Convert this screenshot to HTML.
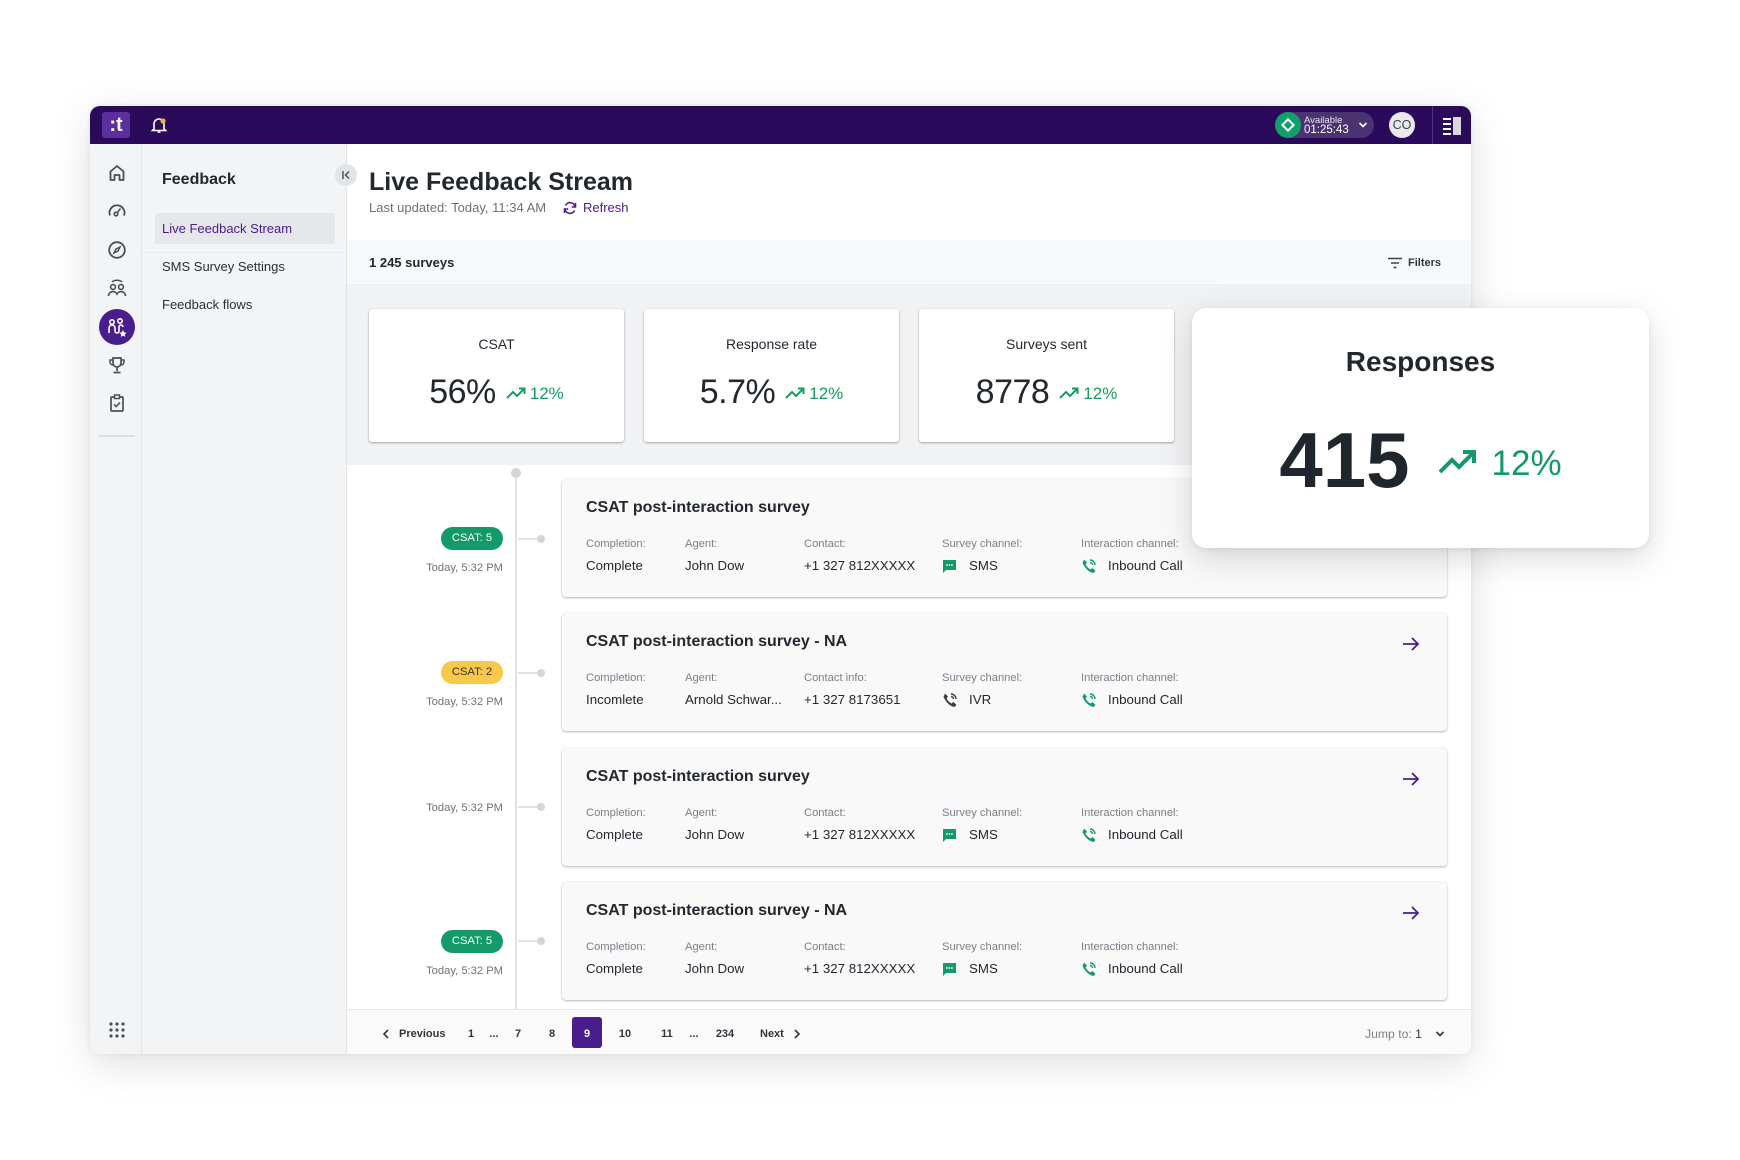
<!DOCTYPE html>
<html><head><meta charset="utf-8">
<style>
*{margin:0;padding:0;box-sizing:border-box}
html,body{width:1740px;height:1160px;background:#fff;overflow:hidden;font-family:"Liberation Sans",Arial,sans-serif;color:#23282f}
.a{position:absolute}
.t{position:absolute;white-space:nowrap}
.card{position:absolute;left:562px;width:885px;height:118px;background:#f9f9fa;border-radius:4px;box-shadow:0 1px 2px rgba(0,0,0,.28),0 0 1px rgba(0,0,0,.12)}
.ct{position:absolute;left:24px;top:19px;height:20px;line-height:20px;font-size:16px;font-weight:bold;color:#23282f;white-space:nowrap}
.lb{position:absolute;top:57px;height:16px;line-height:16px;font-size:11.2px;color:#7a7f87;white-space:nowrap}
.vl{position:absolute;top:78px;height:18px;line-height:18px;font-size:13.3px;color:#23282f;white-space:nowrap}
.pill{position:absolute;left:441px;width:62px;height:23px;border-radius:12px;font-size:11.2px;line-height:23px;text-align:center}
.today{position:absolute;right:1237px;height:16px;line-height:16px;font-size:11.2px;color:#6e737a;white-space:nowrap}
.conn{position:absolute;left:518px;width:23px;height:2px;background:#e3e3e3}
.cdot{position:absolute;left:537px;width:8px;height:8px;border-radius:50%;background:#d6d6d6}
.stat{position:absolute;top:309px;width:255px;height:133px;background:#fff;border-radius:3px;box-shadow:0 1px 2px rgba(0,0,0,.3),0 0 1px rgba(0,0,0,.15)}
.stt{position:absolute;left:0;right:0;top:25px;height:20px;line-height:20px;text-align:center;font-size:14px;color:#23282f}
.sv{position:absolute;left:0;right:0;top:63px;height:40px;display:flex;justify-content:center;align-items:center}
.sv .n{font-size:34px;color:#23282f;letter-spacing:-0.5px}
.sv svg{margin-left:10px;margin-top:2px}
.sv .p{font-size:17px;color:#169b63;margin-left:4px;margin-top:4px}
.pg{position:absolute;top:1026px;height:16px;line-height:16px;font-size:11px;font-weight:bold;color:#30353c;white-space:nowrap;text-align:center}
</style></head><body>

<!-- window -->
<div class="a" style="left:90px;top:106px;width:1381px;height:948px;background:#fff;border-radius:10px 10px 8px 8px;box-shadow:0 10px 40px rgba(0,0,0,.13),0 0 6px rgba(0,0,0,.07)"></div>

<!-- topbar -->
<div class="a" style="left:90px;top:106px;width:1381px;height:38px;background:#2b0a5c;border-radius:10px 10px 0 0"></div>
<div class="a" style="left:102px;top:112px;width:28px;height:26px;background:#5b2f9e;border-radius:3px;color:#fff;font-weight:bold;font-size:20px;line-height:26px;text-align:center">:t</div>
<svg class="a" style="left:150px;top:115px" width="18" height="20" viewBox="0 0 18 20"><path d="M4 14 V9 a5 5 0 0 1 10 0 V14 L15.5 15.5 H2.5 Z" fill="none" stroke="#fff" stroke-width="1.6"/><path d="M7.5 17 h3" stroke="#fff" stroke-width="1.6"/><circle cx="13" cy="6" r="2.6" fill="#e2b93b"/></svg>

<div class="a" style="left:1276px;top:112px;width:98px;height:26px;border-radius:13px;background:#4a3370"></div>
<div class="a" style="left:1275px;top:112px;width:26px;height:26px;border-radius:50%;background:#12a06a"></div>
<div class="a" style="left:1283px;top:120px;width:10px;height:10px;border:2px solid #fff;transform:rotate(45deg)"></div>
<div class="t" style="left:1304px;top:115px;font-size:9.5px;line-height:11px;color:#e8e4f0">Available</div>
<div class="t" style="left:1304px;top:124px;font-size:11.5px;line-height:13px;color:#fff">01:25:43</div>
<svg class="a" style="left:1358px;top:121px" width="10" height="8" viewBox="0 0 10 8"><path d="M1.5 2 L5 5.5 L8.5 2" fill="none" stroke="#fff" stroke-width="1.6"/></svg>
<div class="a" style="left:1389px;top:112px;width:26px;height:26px;border-radius:50%;background:#e9e9ee;color:#3d424a;font-size:12.5px;line-height:26px;text-align:center">CO</div>
<div class="a" style="left:1432px;top:106px;width:1px;height:38px;background:#4d3380"></div>
<div class="a" style="left:1443px;top:118px;width:8px;height:2px;background:#fff"></div>
<div class="a" style="left:1443px;top:123px;width:8px;height:2px;background:#fff"></div>
<div class="a" style="left:1443px;top:128px;width:8px;height:2px;background:#fff"></div>
<div class="a" style="left:1443px;top:133px;width:8px;height:2px;background:#fff"></div>
<div class="a" style="left:1453px;top:117px;width:8px;height:18px;background:#d8d8dc"></div>

<!-- rail -->
<div class="a" style="left:90px;top:144px;width:52px;height:910px;background:#f3f4f6;border-right:1px solid #e2e3e6;border-radius:0 0 0 8px"></div>
<svg class="a" style="left:107px;top:163px" width="20" height="20" viewBox="0 0 20 20"><path d="M3.5 17 V8.5 L10 3 L16.5 8.5 V17 H12.5 V12 H7.5 V17 Z" fill="none" stroke="#4a4f57" stroke-width="1.8" stroke-linejoin="round"/></svg>
<svg class="a" style="left:107px;top:200px" width="20" height="20" viewBox="0 0 20 20"><path d="M3 15.5 A7.5 7.5 0 1 1 17 15.5" fill="none" stroke="#4a4f57" stroke-width="1.8"/><circle cx="9" cy="14" r="1.8" fill="none" stroke="#4a4f57" stroke-width="1.6"/><path d="M10.2 12.8 L13.5 8.5" stroke="#4a4f57" stroke-width="1.6"/></svg>
<svg class="a" style="left:107px;top:240px" width="20" height="20" viewBox="0 0 20 20"><circle cx="10" cy="10" r="7.8" fill="none" stroke="#4a4f57" stroke-width="1.8"/><path d="M13 7 L11 11 L7 13 L9 9 Z" fill="none" stroke="#4a4f57" stroke-width="1.5"/></svg>
<svg class="a" style="left:106px;top:277px" width="22" height="22" viewBox="0 0 22 22"><path d="M6 5 A6 4 0 0 1 16 5" fill="none" stroke="#4a4f57" stroke-width="1.5"/><circle cx="7" cy="10" r="2.4" fill="none" stroke="#4a4f57" stroke-width="1.6"/><circle cx="15" cy="10" r="2.4" fill="none" stroke="#4a4f57" stroke-width="1.6"/><path d="M2.5 19 A4.5 4.5 0 0 1 11 17 A4.5 4.5 0 0 1 19.5 19" fill="none" stroke="#4a4f57" stroke-width="1.6"/></svg>
<div class="a" style="left:99px;top:309px;width:36px;height:36px;border-radius:50%;background:#4a1d8f"></div>
<svg class="a" style="left:106px;top:316px" width="22" height="22" viewBox="0 0 22 22"><circle cx="6" cy="6" r="2.2" fill="none" stroke="#fff" stroke-width="1.6"/><circle cx="14" cy="5" r="2.2" fill="none" stroke="#fff" stroke-width="1.6"/><path d="M3 17 V12 a3 3 0 0 1 6 0 V15 a2 2 0 0 0 4 0 V11 a2 2 0 0 1 4 0" fill="none" stroke="#fff" stroke-width="1.6"/><path d="M17 14 l1.2 2.4 2.5 .3 -1.9 1.7 .5 2.5 -2.3 -1.3 -2.3 1.3 .5 -2.5 -1.9 -1.7 2.5 -.3z" fill="#fff"/></svg>
<svg class="a" style="left:107px;top:355px" width="20" height="20" viewBox="0 0 20 20"><path d="M6 3 H14 V8 a4 4 0 0 1 -8 0 Z" fill="none" stroke="#4a4f57" stroke-width="1.7"/><path d="M6 5 H3 V7 a3 3 0 0 0 3 3 M14 5 H17 V7 a3 3 0 0 1 -3 3" fill="none" stroke="#4a4f57" stroke-width="1.5"/><path d="M10 12 V16 M6.5 17.5 H13.5" stroke="#4a4f57" stroke-width="1.7"/></svg>
<svg class="a" style="left:107px;top:393px" width="20" height="20" viewBox="0 0 20 20"><rect x="4" y="4" width="12" height="14" rx="1" fill="none" stroke="#4a4f57" stroke-width="1.7"/><rect x="7.5" y="2" width="5" height="3.5" fill="#f3f4f6" stroke="#4a4f57" stroke-width="1.5"/><path d="M7 11.5 L9.2 13.5 L13 9.5" fill="none" stroke="#4a4f57" stroke-width="1.6"/></svg>
<div class="a" style="left:99px;top:435px;width:36px;height:2px;background:#dcdde0"></div>
<svg class="a" style="left:109px;top:1022px" width="16" height="16" viewBox="0 0 16 16" fill="#4a4f57"><circle cx="2" cy="2" r="1.6"/><circle cx="8" cy="2" r="1.6"/><circle cx="14" cy="2" r="1.6"/><circle cx="2" cy="8" r="1.6"/><circle cx="8" cy="8" r="1.6"/><circle cx="14" cy="8" r="1.6"/><circle cx="2" cy="14" r="1.6"/><circle cx="8" cy="14" r="1.6"/><circle cx="14" cy="14" r="1.6"/></svg>

<!-- feedback panel -->
<div class="a" style="left:142px;top:144px;width:205px;height:910px;background:#f3f4f6;border-right:1px solid #e2e3e6"></div>
<div class="t" style="left:162px;top:170px;height:20px;line-height:20px;font-size:16px;font-weight:bold;color:#23282f">Feedback</div>
<div class="a" style="left:335px;top:164px;width:22px;height:22px;border-radius:50%;background:#e3e4e7"></div>
<svg class="a" style="left:340px;top:169px" width="12" height="12" viewBox="0 0 12 12"><path d="M3 2 V10" stroke="#4a4f57" stroke-width="1.4"/><path d="M9 2.5 L5.5 6 L9 9.5" fill="none" stroke="#4a4f57" stroke-width="1.4"/></svg>
<div class="a" style="left:142px;top:252px;width:204px;height:1px;background:#ebecee"></div>
<div class="a" style="left:155px;top:213px;width:180px;height:31px;background:#e6e7ea;border-radius:3px"></div>
<div class="t" style="left:162px;top:221px;height:16px;line-height:16px;font-size:13px;color:#4a1d8f">Live Feedback Stream</div>
<div class="t" style="left:162px;top:259px;height:16px;line-height:16px;font-size:13px;color:#2a2f36">SMS Survey Settings</div>
<div class="t" style="left:162px;top:297px;height:16px;line-height:16px;font-size:13px;color:#2a2f36">Feedback flows</div>

<!-- header -->
<div class="t" style="left:369px;top:167px;height:30px;line-height:30px;font-size:25px;font-weight:bold;color:#23282f">Live Feedback Stream</div>
<div class="t" style="left:369px;top:200px;height:16px;line-height:16px;font-size:13px;color:#6b7079">Last updated: Today, 11:34 AM</div>
<svg class="a" style="left:562px;top:200px" width="16" height="16" viewBox="0 0 16 16"><path d="M13 7 A5 5 0 0 0 3.5 5.5 M3 9 A5 5 0 0 0 12.5 10.5" fill="none" stroke="#4a1d8f" stroke-width="1.6"/><path d="M13.5 3 V7 H9.8 M2.5 13 V9 H6.2" fill="none" stroke="#4a1d8f" stroke-width="1.6"/></svg>
<div class="t" style="left:583px;top:200px;height:16px;line-height:16px;font-size:13px;color:#4a1d8f">Refresh</div>

<!-- band -->
<div class="a" style="left:347px;top:240px;width:1124px;height:45px;background:#f8f9fa;border-bottom:1px solid #eceef0"></div>
<div class="t" style="left:369px;top:255px;height:16px;line-height:16px;font-size:13px;font-weight:bold;color:#23282f">1 245 surveys</div>
<svg class="a" style="left:1387px;top:257px" width="16" height="12" viewBox="0 0 16 12"><path d="M1 1.5 H15 M4 6 H12 M6.5 10.5 H9.5" stroke="#3a3f47" stroke-width="1.6"/></svg>
<div class="t" style="left:1408px;top:256px;height:15px;line-height:15px;font-size:11px;font-weight:bold;color:#30353c">Filters</div>

<!-- stats area -->
<div class="a" style="left:347px;top:285px;width:1124px;height:180px;background:#f1f2f4"></div>
<div class="stat" style="left:369px"><div class="stt">CSAT</div><div class="sv"><span class="n">56%</span><svg width="20" height="14" viewBox="0 0 20 14"><path d="M1 12 L7 6 L11 10 L18 3" fill="none" stroke="#169b63" stroke-width="2"/><path d="M13 2.5 H18.5 V8" fill="none" stroke="#169b63" stroke-width="2"/></svg><span class="p">12%</span></div></div>
<div class="stat" style="left:644px"><div class="stt">Response rate</div><div class="sv"><span class="n">5.7%</span><svg width="20" height="14" viewBox="0 0 20 14"><path d="M1 12 L7 6 L11 10 L18 3" fill="none" stroke="#169b63" stroke-width="2"/><path d="M13 2.5 H18.5 V8" fill="none" stroke="#169b63" stroke-width="2"/></svg><span class="p">12%</span></div></div>
<div class="stat" style="left:919px"><div class="stt">Surveys sent</div><div class="sv"><span class="n">8778</span><svg width="20" height="14" viewBox="0 0 20 14"><path d="M1 12 L7 6 L11 10 L18 3" fill="none" stroke="#169b63" stroke-width="2"/><path d="M13 2.5 H18.5 V8" fill="none" stroke="#169b63" stroke-width="2"/></svg><span class="p">12%</span></div></div>

<!-- timeline -->
<div class="a" style="left:515px;top:473px;width:2px;height:537px;background:#e3e3e3"></div>
<div class="a" style="left:511px;top:468px;width:10px;height:10px;border-radius:50%;background:#d6d6d6"></div>

<div class="conn" style="top:538px"></div><div class="cdot" style="top:535px"></div>
<div class="pill" style="top:527px;background:#139a68;color:#fff">CSAT: 5</div>
<div class="today" style="top:560px">Today, 5:32 PM</div>

<div class="conn" style="top:672px"></div><div class="cdot" style="top:669px"></div>
<div class="pill" style="top:661px;background:#f8c84a;color:#3a3220">CSAT: 2</div>
<div class="today" style="top:694px">Today, 5:32 PM</div>

<div class="conn" style="top:806px"></div><div class="cdot" style="top:803px"></div>
<div class="today" style="top:800px">Today, 5:32 PM</div>

<div class="conn" style="top:940px"></div><div class="cdot" style="top:937px"></div>
<div class="pill" style="top:930px;background:#139a68;color:#fff">CSAT: 5</div>
<div class="today" style="top:963px">Today, 5:32 PM</div>

<!-- cards -->
<div class="card" style="top:479px">
 <div class="ct">CSAT post-interaction survey</div>
 <div class="lb" style="left:24px">Completion:</div><div class="lb" style="left:123px">Agent:</div><div class="lb" style="left:242px">Contact:</div><div class="lb" style="left:380px">Survey channel:</div><div class="lb" style="left:519px">Interaction channel:</div>
 <div class="vl" style="left:24px">Complete</div><div class="vl" style="left:123px">John Dow</div><div class="vl" style="left:242px">+1 327 812XXXXX</div>
 <svg class="a" style="left:380px;top:80px" width="15" height="15" viewBox="0 0 15 15"><path d="M1 1 H14 V11 H4 L1 14 Z" fill="#139a68"/><circle cx="5" cy="6" r=".9" fill="#fff"/><circle cx="7.5" cy="6" r=".9" fill="#fff"/><circle cx="10" cy="6" r=".9" fill="#fff"/></svg>
 <div class="vl" style="left:407px">SMS</div>
 <svg class="a" style="left:519px;top:79px" width="16" height="16" viewBox="0 0 16 16"><path d="M3 1.5 L6 4.5 L4.5 6.5 Q6.5 10 9.5 11.5 L11.5 10 L14.5 13 L12.5 15 Q6 14 1.5 5 Z" fill="#139a68"/><path d="M9 2 A5 5 0 0 1 14 7 M9 4.5 A2.5 2.5 0 0 1 11.5 7" fill="none" stroke="#139a68" stroke-width="1.4"/></svg>
 <div class="vl" style="left:546px">Inbound Call</div>
</div>

<div class="card" style="top:613px">
 <div class="ct">CSAT post-interaction survey - NA</div>
 <div class="lb" style="left:24px">Completion:</div><div class="lb" style="left:123px">Agent:</div><div class="lb" style="left:242px">Contact info:</div><div class="lb" style="left:380px">Survey channel:</div><div class="lb" style="left:519px">Interaction channel:</div>
 <div class="vl" style="left:24px">Incomlete</div><div class="vl" style="left:123px">Arnold Schwar...</div><div class="vl" style="left:242px">+1 327 8173651</div>
 <svg class="a" style="left:380px;top:79px" width="16" height="16" viewBox="0 0 16 16"><path d="M3 1.5 L6 4.5 L4.5 6.5 Q6.5 10 9.5 11.5 L11.5 10 L14.5 13 L12.5 15 Q6 14 1.5 5 Z" fill="#3a3f47"/><path d="M9 2 A5 5 0 0 1 14 7 M9 4.5 A2.5 2.5 0 0 1 11.5 7" fill="none" stroke="#3a3f47" stroke-width="1.4"/></svg>
 <div class="vl" style="left:407px">IVR</div>
 <svg class="a" style="left:519px;top:79px" width="16" height="16" viewBox="0 0 16 16"><path d="M3 1.5 L6 4.5 L4.5 6.5 Q6.5 10 9.5 11.5 L11.5 10 L14.5 13 L12.5 15 Q6 14 1.5 5 Z" fill="#139a68"/><path d="M9 2 A5 5 0 0 1 14 7 M9 4.5 A2.5 2.5 0 0 1 11.5 7" fill="none" stroke="#139a68" stroke-width="1.4"/></svg>
 <div class="vl" style="left:546px">Inbound Call</div>
 <svg class="a" style="left:840px;top:23px" width="18" height="16" viewBox="0 0 18 16"><path d="M1 8 H16 M10 2 L16 8 L10 14" fill="none" stroke="#4a1d8f" stroke-width="1.8"/></svg>
</div>

<div class="card" style="top:748px">
 <div class="ct">CSAT post-interaction survey</div>
 <div class="lb" style="left:24px">Completion:</div><div class="lb" style="left:123px">Agent:</div><div class="lb" style="left:242px">Contact:</div><div class="lb" style="left:380px">Survey channel:</div><div class="lb" style="left:519px">Interaction channel:</div>
 <div class="vl" style="left:24px">Complete</div><div class="vl" style="left:123px">John Dow</div><div class="vl" style="left:242px">+1 327 812XXXXX</div>
 <svg class="a" style="left:380px;top:80px" width="15" height="15" viewBox="0 0 15 15"><path d="M1 1 H14 V11 H4 L1 14 Z" fill="#139a68"/><circle cx="5" cy="6" r=".9" fill="#fff"/><circle cx="7.5" cy="6" r=".9" fill="#fff"/><circle cx="10" cy="6" r=".9" fill="#fff"/></svg>
 <div class="vl" style="left:407px">SMS</div>
 <svg class="a" style="left:519px;top:79px" width="16" height="16" viewBox="0 0 16 16"><path d="M3 1.5 L6 4.5 L4.5 6.5 Q6.5 10 9.5 11.5 L11.5 10 L14.5 13 L12.5 15 Q6 14 1.5 5 Z" fill="#139a68"/><path d="M9 2 A5 5 0 0 1 14 7 M9 4.5 A2.5 2.5 0 0 1 11.5 7" fill="none" stroke="#139a68" stroke-width="1.4"/></svg>
 <div class="vl" style="left:546px">Inbound Call</div>
 <svg class="a" style="left:840px;top:23px" width="18" height="16" viewBox="0 0 18 16"><path d="M1 8 H16 M10 2 L16 8 L10 14" fill="none" stroke="#4a1d8f" stroke-width="1.8"/></svg>
</div>

<div class="card" style="top:882px">
 <div class="ct">CSAT post-interaction survey - NA</div>
 <div class="lb" style="left:24px">Completion:</div><div class="lb" style="left:123px">Agent:</div><div class="lb" style="left:242px">Contact:</div><div class="lb" style="left:380px">Survey channel:</div><div class="lb" style="left:519px">Interaction channel:</div>
 <div class="vl" style="left:24px">Complete</div><div class="vl" style="left:123px">John Dow</div><div class="vl" style="left:242px">+1 327 812XXXXX</div>
 <svg class="a" style="left:380px;top:80px" width="15" height="15" viewBox="0 0 15 15"><path d="M1 1 H14 V11 H4 L1 14 Z" fill="#139a68"/><circle cx="5" cy="6" r=".9" fill="#fff"/><circle cx="7.5" cy="6" r=".9" fill="#fff"/><circle cx="10" cy="6" r=".9" fill="#fff"/></svg>
 <div class="vl" style="left:407px">SMS</div>
 <svg class="a" style="left:519px;top:79px" width="16" height="16" viewBox="0 0 16 16"><path d="M3 1.5 L6 4.5 L4.5 6.5 Q6.5 10 9.5 11.5 L11.5 10 L14.5 13 L12.5 15 Q6 14 1.5 5 Z" fill="#139a68"/><path d="M9 2 A5 5 0 0 1 14 7 M9 4.5 A2.5 2.5 0 0 1 11.5 7" fill="none" stroke="#139a68" stroke-width="1.4"/></svg>
 <div class="vl" style="left:546px">Inbound Call</div>
 <svg class="a" style="left:840px;top:23px" width="18" height="16" viewBox="0 0 18 16"><path d="M1 8 H16 M10 2 L16 8 L10 14" fill="none" stroke="#4a1d8f" stroke-width="1.8"/></svg>
</div>

<!-- pagination -->
<div class="a" style="left:347px;top:1009px;width:1124px;height:45px;background:#fafafa;border-top:1px solid #e8e8ea;border-radius:0 0 8px 0"></div>
<svg class="a" style="left:382px;top:1029px" width="8" height="10" viewBox="0 0 8 10"><path d="M6 1 L2 5 L6 9" fill="none" stroke="#30353c" stroke-width="1.6"/></svg>
<div class="pg" style="left:399px">Previous</div>
<div class="pg" style="left:461px;width:20px">1</div>
<div class="pg" style="left:484px;width:20px">...</div>
<div class="pg" style="left:508px;width:20px">7</div>
<div class="pg" style="left:542px;width:20px">8</div>
<div class="a" style="left:572px;top:1017px;width:30px;height:31px;background:#4a1d8f;border-radius:3px"></div>
<div class="pg" style="left:577px;width:20px;color:#fff">9</div>
<div class="pg" style="left:613px;width:24px">10</div>
<div class="pg" style="left:655px;width:24px">11</div>
<div class="pg" style="left:684px;width:20px">...</div>
<div class="pg" style="left:711px;width:28px">234</div>
<div class="pg" style="left:760px">Next</div>
<svg class="a" style="left:793px;top:1029px" width="8" height="10" viewBox="0 0 8 10"><path d="M2 1 L6 5 L2 9" fill="none" stroke="#30353c" stroke-width="1.6"/></svg>
<div class="t" style="left:1365px;top:1026px;height:16px;line-height:16px;font-size:12.2px;color:#7b8088">Jump to: <span style="color:#30353c">1</span></div>
<svg class="a" style="left:1435px;top:1030px" width="10" height="8" viewBox="0 0 10 8"><path d="M1.5 2 L5 5.5 L8.5 2" fill="none" stroke="#30353c" stroke-width="1.6"/></svg>

<!-- responses floating card -->
<div class="a" style="left:1192px;top:308px;width:457px;height:240px;background:#fff;border-radius:14px;box-shadow:0 10px 34px rgba(0,0,0,.15),0 2px 6px rgba(0,0,0,.07)">
 <div class="t" style="left:0;right:0;top:37px;height:34px;line-height:34px;text-align:center;font-size:28px;font-weight:bold;color:#23282f">Responses</div>
 <div class="a" style="left:0;right:0;top:112px;height:80px;display:flex;justify-content:center;align-items:center">
  <span style="font-size:78px;font-weight:bold;color:#1f262e;line-height:80px">415</span>
  <svg style="margin-left:28px;margin-top:4px" width="40" height="26" viewBox="0 0 40 26"><path d="M2 23 L14 11 L21 18 L35 4" fill="none" stroke="#139a68" stroke-width="4"/><path d="M25 3 H36 V14" fill="none" stroke="#139a68" stroke-width="4"/></svg>
  <span style="font-size:35px;color:#139a68;margin-left:14px;margin-top:8px">12%</span>
 </div>
</div>

</body></html>
